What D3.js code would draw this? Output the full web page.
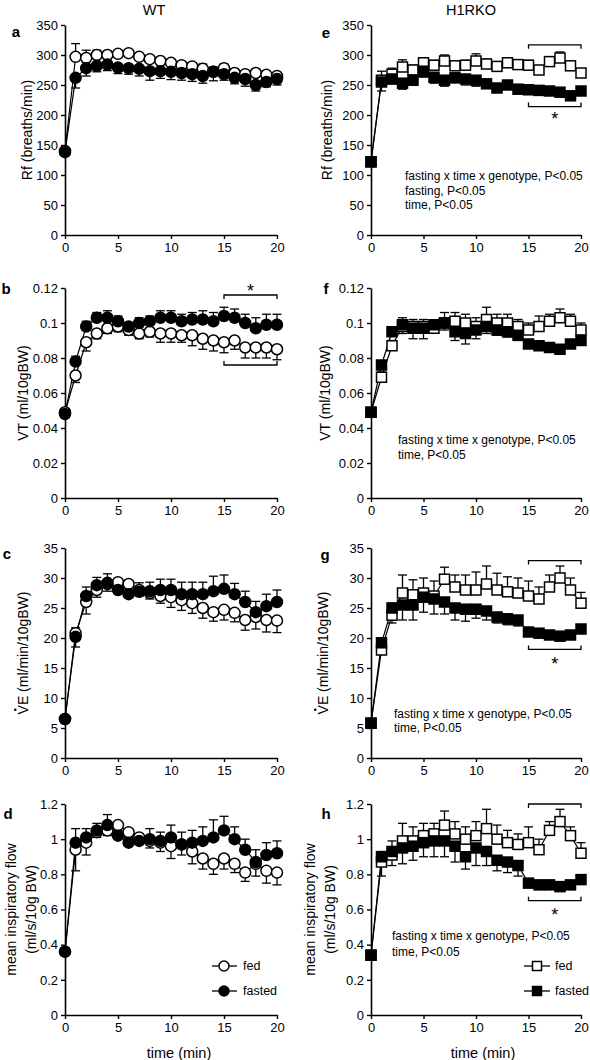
<!DOCTYPE html>
<html><head><meta charset="utf-8">
<script src="https://cdn.jsdelivr.net/npm/d3@7/dist/d3.min.js"></script>
<style>
body{margin:0;background:#fff}
svg{display:block}
text{font-family:"Liberation Sans",Arial,Helvetica,sans-serif;fill:#000}
</style>
</head><body>
<svg id="chart" width="590" height="1060"></svg>
<script>
// ---------- data ----------
const time = [0,1,2,3,4,5,6,7,8,9,10,11,12,13,14,15,16,17,18,19,20];
const xTicks = [0,5,10,15,20];

const rfTicks = [0,50,100,150,200,250,300,350];
const rfTickLabels = ["0","50","100","150","200","250","300","350"];
const vtTicks = [0,0.02,0.04,0.06,0.08,0.1,0.12];
const vtTickLabels = ["0","0.02","0.04","0.06","0.08","0.1","0.12"];
const veTicks = [0,5,10,15,20,25,30,35];
const veTickLabels = ["0","5","10","15","20","25","30","35"];
const mifTicks = [0,0.2,0.4,0.6,0.8,1,1.2];
const mifTickLabels = ["0","0.2","0.4","0.6","0.8","1","1.2"];

// a: Rf WT
const rfWtFed = [140,297,295,300,300,302,303,297,293,290,287,283,281,277,272,278,270,268,270,267,265];
const rfWtFedErr = [4,22,13,8,6,5,5,5,5,5,6,6,6,8,8,7,6,6,6,5,5];
const rfWtFasted = [138,262,278,282,284,279,278,277,273,273,272,270,268,265,272,268,262,260,250,255,260];
const rfWtFastedErr = [5,17,13,10,10,10,10,12,15,12,13,12,12,12,15,10,10,12,10,8,10];
// e: Rf H1RKO
const rfKoFed = [122,258,268,280,275,287,283,290,282,283,290,285,281,287,284,283,275,289,295,282,270];
const rfKoFedErr = [4,15,10,12,8,8,8,10,8,8,12,8,6,8,8,8,6,6,10,6,6];
const rfKoFasted = [122,255,260,253,258,273,263,258,262,260,258,252,245,250,243,242,241,240,238,232,240];
const rfKoFastedErr = [4,15,8,10,8,10,10,10,8,10,10,6,6,5,5,5,5,5,5,5,5];
// b: VT WT
const vtWtFed = [0.049,0.070,0.089,0.094,0.097,0.098,0.096,0.094,0.095,0.094,0.094,0.093,0.093,0.091,0.090,0.089,0.090,0.086,0.086,0.086,0.085];
const vtWtFedErr = [0.002,0.004,0.005,0.003,0.003,0.003,0.003,0.003,0.003,0.005,0.005,0.004,0.006,0.006,0.006,0.006,0.005,0.006,0.006,0.006,0.006];
const vtWtFasted = [0.048,0.078,0.098,0.103,0.103,0.101,0.098,0.100,0.101,0.103,0.103,0.101,0.102,0.102,0.101,0.104,0.103,0.100,0.097,0.099,0.099];
const vtWtFastedErr = [0.003,0.003,0.003,0.003,0.004,0.003,0.002,0.003,0.003,0.004,0.004,0.004,0.004,0.005,0.005,0.005,0.005,0.005,0.006,0.006,0.006];
// f: VT H1RKO
const vtKoFed = [0.049,0.069,0.087,0.098,0.098,0.098,0.097,0.100,0.101,0.100,0.098,0.102,0.100,0.100,0.098,0.096,0.098,0.101,0.103,0.101,0.096];
const vtKoFedErr = [0.002,0.003,0.003,0.005,0.004,0.004,0.003,0.006,0.005,0.005,0.005,0.007,0.005,0.005,0.004,0.004,0.006,0.004,0.005,0.004,0.004];
const vtKoFasted = [0.049,0.076,0.095,0.099,0.097,0.097,0.099,0.100,0.095,0.094,0.096,0.098,0.096,0.095,0.093,0.088,0.087,0.086,0.085,0.088,0.090];
const vtKoFastedErr = [0.002,0.002,0.002,0.005,0.006,0.006,0.004,0.004,0.005,0.006,0.005,0.004,0.003,0.003,0.003,0.002,0.002,0.002,0.002,0.002,0.002];
// c: VE WT
const veWtFed = [6.5,20.8,26.0,28.0,29.0,29.3,29.0,28.0,27.5,27.0,26.8,26.3,25.8,25.0,24.3,24.7,24.2,23.0,23.5,23.0,22.9];
const veWtFedErr = [0.5,2.3,2.0,1.2,1.2,1.2,1.0,1.0,1.0,1.2,1.7,1.7,1.7,1.7,1.5,1.7,1.5,1.7,2.0,2.0,2.0];
const veWtFasted = [6.5,20.2,27.0,28.8,29.2,28.0,27.3,27.7,27.8,28.0,28.0,27.3,27.3,27.3,27.8,28.2,27.3,26.0,24.3,25.3,26.0];
const veWtFastedErr = [0.5,1.5,1.5,1.3,1.5,1.3,1.2,1.5,1.5,1.8,1.8,2.0,2.0,2.0,2.5,2.3,1.8,1.8,1.8,2.0,2.0];
// g: VE H1RKO
const veKoFed = [5.8,18.0,23.8,27.5,27.2,27.5,27.0,29.8,28.5,28.0,28.0,29.0,28.0,27.7,27.5,27.0,26.5,28.5,30.0,28.0,25.8];
const veKoFedErr = [0.5,1.0,2.0,3.0,2.5,2.5,2.5,2.0,2.0,2.5,3.0,3.0,2.8,2.5,2.5,2.5,2.0,2.0,2.0,2.0,1.8];
const veKoFasted = [5.8,19.2,25.0,25.5,25.5,26.8,26.5,26.0,25.0,24.8,24.8,24.5,23.5,23.2,23.0,21.0,20.8,20.5,20.3,20.5,21.5];
const veKoFastedErr = [0.5,1.5,2.5,2.5,2.5,2.5,2.5,2.0,2.0,2.0,1.5,1.5,1.0,1.0,1.0,0.5,0.5,0.5,0.5,0.5,0.5];
// d: mean inspiratory flow WT
const mifWtFed = [0.36,0.94,0.98,1.04,1.05,1.08,1.04,1.01,0.99,0.98,0.96,0.97,0.93,0.89,0.86,0.89,0.86,0.81,0.86,0.82,0.81];
const mifWtFedErr = [0.02,0.12,0.07,0.03,0.03,0.03,0.03,0.03,0.04,0.05,0.07,0.06,0.07,0.06,0.06,0.06,0.05,0.05,0.07,0.07,0.07];
const mifWtFasted = [0.36,0.98,1.01,1.05,1.08,1.02,0.98,0.99,1.00,0.99,1.01,0.97,0.98,0.99,1.01,1.05,1.00,0.94,0.87,0.91,0.92];
const mifWtFastedErr = [0.02,0.08,0.05,0.04,0.06,0.04,0.03,0.04,0.06,0.05,0.07,0.07,0.07,0.08,0.10,0.08,0.07,0.06,0.07,0.07,0.07];
// h: mean inspiratory flow H1RKO
const mifKoFed = [0.34,0.87,0.91,0.99,0.99,1.02,1.03,1.08,1.03,1.00,1.02,1.06,1.00,0.98,0.97,0.98,0.94,1.05,1.10,1.02,0.92];
const mifKoFedErr = [0.02,0.06,0.08,0.10,0.08,0.07,0.06,0.08,0.07,0.07,0.08,0.11,0.08,0.07,0.06,0.09,0.06,0.05,0.07,0.05,0.06];
const mifKoFasted = [0.34,0.90,0.93,0.95,0.96,0.98,0.99,0.99,0.96,0.90,0.95,0.93,0.88,0.87,0.85,0.75,0.74,0.74,0.73,0.74,0.77];
const mifKoFastedErr = [0.02,0.11,0.08,0.09,0.08,0.08,0.09,0.09,0.09,0.07,0.10,0.08,0.06,0.06,0.06,0.02,0.02,0.02,0.02,0.02,0.02];

const columnTitles = ["WT","H1RKO"];
const seriesNames = ["fed","fasted"];
const noteRfKo = ["fasting x time x genotype, P<0.05","fasting, P<0.05","time, P<0.05"];
const noteKo = ["fasting x time x genotype, P<0.05","time, P<0.05"];

// ---------- layout ----------
const svg = d3.select("#chart");
const cols = [{x0:65,x1:277},{x0:371,x1:581}];
const rows = [{y0:25,y1:235},{y0:288,y1:498},{y0:548,y1:758},{y0:804,y1:1015}];

const panels = [
 {L:"a",c:0,r:0,ticks:rfTicks,lab:rfTickLabels,fed:rfWtFed,fedE:rfWtFedErr,fedD:1,fas:rfWtFasted,fasE:rfWtFastedErr,fasD:-1,shape:"circle",
  ylab:["Rf (breaths/min)"],ylx:[-38],lp:[16,31]},
 {L:"b",c:0,r:1,ticks:vtTicks,lab:vtTickLabels,fed:vtWtFed,fedE:vtWtFedErr,fedD:-1,fas:vtWtFasted,fasE:vtWtFastedErr,fasD:1,shape:"circle",
  ylab:["VT (ml/10gBW)"],ylx:[-42],lp:[6,288],
  br:[{y:0.116,d:1},{y:0.076,d:-1}],ast:0.1205},
 {L:"c",c:0,r:2,ticks:veTicks,lab:veTickLabels,fed:veWtFed,fedE:veWtFedErr,fedD:-1,fas:veWtFasted,fasE:veWtFastedErr,fasD:1,shape:"circle",
  ylab:["VE (ml/min/10gBW)"],dot:true,ylx:[-42],lp:[7,553]},
 {L:"d",c:0,r:3,ticks:mifTicks,lab:mifTickLabels,fed:mifWtFed,fedE:mifWtFedErr,fedD:-1,fas:mifWtFasted,fasE:mifWtFastedErr,fasD:1,shape:"circle",
  ylab:["mean inspiratory flow","(ml/s/10g BW)"],ylx:[-54,-34],lp:[8,813],xlab:true,xlc:179,
  legend:{l0:212,l1:237,m:224,t:243}},
 {L:"e",c:1,r:0,ticks:rfTicks,lab:rfTickLabels,fed:rfKoFed,fedE:rfKoFedErr,fedD:1,fas:rfKoFasted,fasE:rfKoFastedErr,fasD:-1,shape:"square",
  ylab:["Rf (breaths/min)"],ylx:[-44],lp:[326,32],
  br:[{y:317,d:1},{y:214,d:-1}],ast:200,note:noteRfKo,nx:405,ny:[176,191,205]},
 {L:"f",c:1,r:1,ticks:vtTicks,lab:vtTickLabels,fed:vtKoFed,fedE:vtKoFedErr,fedD:1,fas:vtKoFasted,fasE:vtKoFastedErr,fasD:-1,shape:"square",
  ylab:["VT (ml/10gBW)"],ylx:[-46],lp:[326,288],note:noteKo,nx:398,ny:[440,455]},
 {L:"g",c:1,r:2,ticks:veTicks,lab:veTickLabels,fed:veKoFed,fedE:veKoFedErr,fedD:1,fas:veKoFasted,fasE:veKoFastedErr,fasD:-1,shape:"square",
  ylab:["VE (ml/min/10gBW)"],dot:true,ylx:[-48],lp:[325,554],
  br:[{y:32.9,d:1},{y:18.1,d:-1}],ast:16.4,note:noteKo,nx:394,ny:[714,728]},
 {L:"h",c:1,r:3,ticks:mifTicks,lab:mifTickLabels,fed:mifKoFed,fedE:mifKoFedErr,fedD:1,fas:mifKoFasted,fasE:mifKoFastedErr,fasD:-1,shape:"square",
  ylab:["mean inspiratory flow","(ml/s/10g BW)"],ylx:[-61,-41],lp:[326,813],xlab:true,xlc:483,
  br:[{y:1.2,d:1},{y:0.65,d:-1}],ast:0.59,note:noteKo,nx:392,ny:[936,952],
  legend:{l0:524,l1:550,m:537,t:555}}
];

// column titles
svg.append("text").attr("x",154).attr("y",10).attr("text-anchor","middle").attr("dominant-baseline","central")
  .style("font-size","14.5px").text(columnTitles[0]);
svg.append("text").attr("x",471).attr("y",10).attr("text-anchor","middle").attr("dominant-baseline","central")
  .style("font-size","14.5px").text(columnTitles[1]);

const S = 11, CAP = 4.5;

function marker(g, shape, cx, cy, filled, size){
  if(shape==="circle"){
    g.append("circle").attr("cx",cx).attr("cy",cy).attr("r",size/2)
      .attr("fill",filled?"#000":"#fff").attr("stroke","#000").attr("stroke-width",1.5);
  } else {
    g.append("rect").attr("x",cx-size/2+0.5).attr("y",cy-size/2+0.5).attr("width",size-1).attr("height",size-1)
      .attr("fill",filled?"#000":"#fff").attr("stroke","#000").attr("stroke-width",1.5);
  }
}

panels.forEach(p=>{
  const col = cols[p.c], row = rows[p.r];
  const x = d3.scaleLinear().domain([0,20]).range([col.x0,col.x1]);
  const y = d3.scaleLinear().domain([p.ticks[0],p.ticks[p.ticks.length-1]]).range([row.y1,row.y0]);
  const g = svg.append("g");

  // axes
  const ya = g.append("g").attr("transform",`translate(${col.x0},0)`)
    .call(d3.axisLeft(y).tickValues(p.ticks).tickFormat((d,i)=>p.lab[i]).tickSize(4).tickSizeOuter(0).tickPadding(3));
  const xa = g.append("g").attr("transform",`translate(0,${row.y1})`)
    .call(d3.axisBottom(x).tickValues(xTicks).tickFormat(d=>String(d)).tickSize(4).tickSizeOuter(0).tickPadding(4));
  [ya,xa].forEach(a=>{
    a.select(".domain").attr("stroke","#000").attr("stroke-width",1.6);
    a.selectAll(".tick line").attr("stroke","#000").attr("stroke-width",1.4);
    a.selectAll(".tick text").style("font-size","13px").attr("fill","#000")
      .style("font-family",'"Liberation Sans",Arial,sans-serif');
  });

  // y label
  p.ylab.forEach((t,i)=>{
    const lg = g.append("g").attr("transform",`translate(${col.x0+p.ylx[i]},${(row.y0+row.y1)/2}) rotate(-90)`);
    const tx = lg.append("text").attr("x",0).attr("y",0).attr("dy","0.35em")
      .attr("text-anchor","middle").style("font-size","14px").text(t);
    if(p.dot && i===0){
      const n = tx.node();
      const s0 = n.getStartPositionOfChar(0), e0 = n.getEndPositionOfChar(0);
      lg.append("circle").attr("cx",(s0.x+e0.x)/2).attr("cy",s0.y-14*0.716-2.6).attr("r",1.3).attr("fill","#000");
    }
  });
  if(p.xlab){
    g.append("text").attr("x",p.xlc).attr("y",row.y1+38).attr("text-anchor","middle")
      .attr("dominant-baseline","central").style("font-size","14.5px").text("time (min)");
  }
  // panel letter
  g.append("text").attr("x",p.lp[0]).attr("y",p.lp[1]).attr("text-anchor","middle").attr("dominant-baseline","central")
    .style("font-size","15px").style("font-weight","bold").text(p.L);

  const series = [
    {v:p.fed,e:p.fedE,d:p.fedD,filled:false},
    {v:p.fas,e:p.fasE,d:p.fasD,filled:true}
  ];
  const line = d3.line().x((d,i)=>x(time[i])).y(d=>y(d));
  series.forEach(s=>{
    g.append("path").attr("d",line(s.v)).attr("fill","none").attr("stroke","#000").attr("stroke-width",1.2);
  });
  series.forEach(s=>{
    s.v.forEach((v,i)=>{
      const cx = x(time[i]), yv = y(v), ye = y(v + s.d*s.e[i]);
      g.append("line").attr("x1",cx).attr("x2",cx).attr("y1",yv).attr("y2",ye).attr("stroke","#000").attr("stroke-width",1.3);
      g.append("line").attr("x1",cx-CAP).attr("x2",cx+CAP).attr("y1",ye).attr("y2",ye).attr("stroke","#000").attr("stroke-width",1.3);
    });
  });
  series.forEach(s=>{
    s.v.forEach((v,i)=>{ marker(g,p.shape,x(time[i]),y(v),s.filled,S); });
  });

  // brackets
  if(p.br){
    p.br.forEach(b=>{
      const yy = y(b.y), t = 4*b.d;
      g.append("path").attr("d",`M${x(15)},${yy+t}V${yy}H${x(20)}V${yy+t}`)
        .attr("fill","none").attr("stroke","#000").attr("stroke-width",1.3);
    });
    g.append("text").attr("x",x(17.5)).attr("y",y(p.ast)+4).attr("text-anchor","middle")
      .attr("dominant-baseline","central").style("font-size","18px").text("*");
  }
  // notes
  if(p.note){
    p.note.forEach((t,i)=>{
      g.append("text").attr("x",p.nx).attr("y",p.ny[i]).attr("dominant-baseline","central")
        .style("font-size","12px").text(t);
    });
  }
  // legend
  if(p.legend){
    const ly = [966,991];
    seriesNames.forEach((n,i)=>{
      g.append("line").attr("x1",p.legend.l0).attr("x2",p.legend.l1).attr("y1",ly[i]).attr("y2",ly[i])
        .attr("stroke","#000").attr("stroke-width",1.3);
      marker(g,p.shape,p.legend.m,ly[i],i===1,10);
      g.append("text").attr("x",p.legend.t).attr("y",ly[i]).attr("dominant-baseline","central")
        .style("font-size","12.5px").text(n);
    });
  }
});
</script>
</body></html>
